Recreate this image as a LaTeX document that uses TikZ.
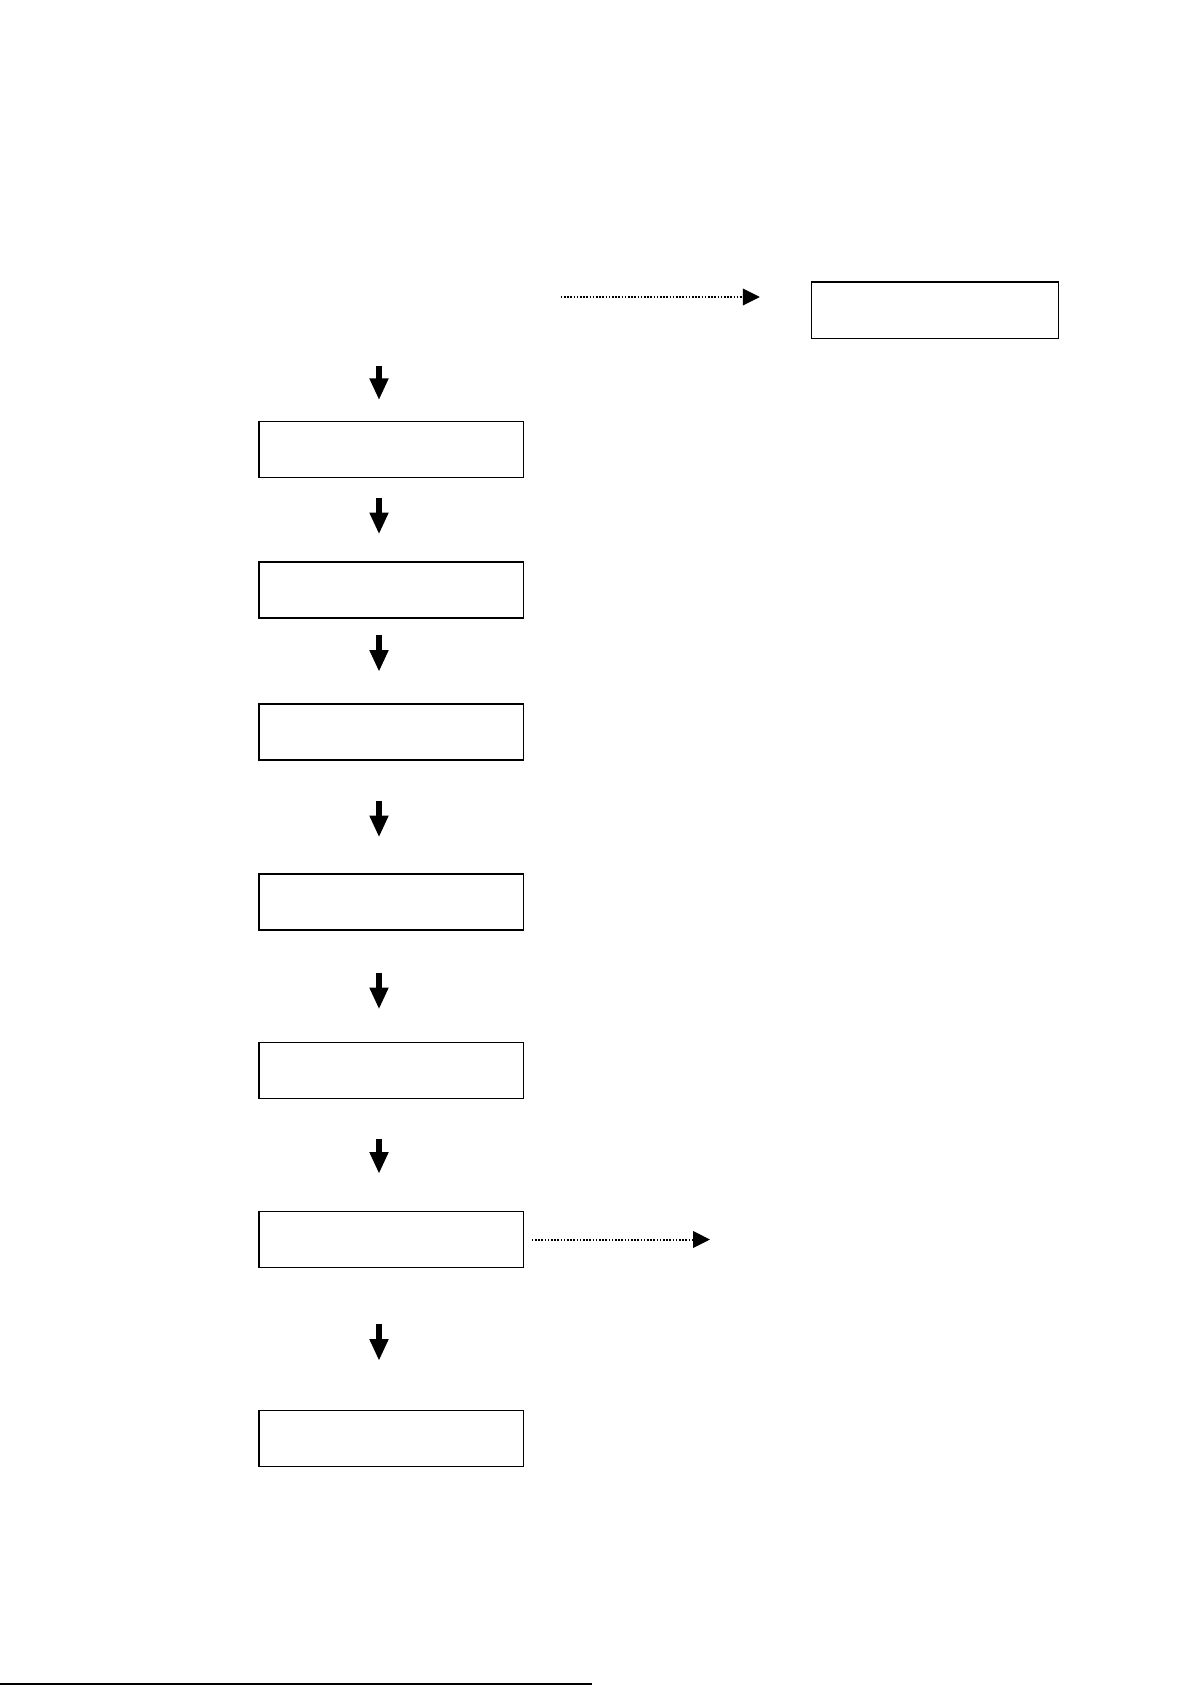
\documentclass[tikz,border=0pt]{standalone}
\usetikzlibrary{arrows.meta}
\begin{document}
\begin{tikzpicture}[x=1pt,y=-1pt,
  stepbox/.style={draw,line width=1.3pt,minimum width=264.7pt,minimum height=56pt,inner sep=0pt,outer sep=0pt},
  sidebox/.style={draw,line width=1.3pt,minimum width=247pt,minimum height=56.5pt,inner sep=0pt,outer sep=0pt},
  bigarrow/.style={line width=6pt,-{Triangle[width=17.7pt,length=21.7pt]}},
  dotarrow/.style={line width=2pt,dash pattern=on 1.6pt off 1.6pt,-{Triangle[width=16.6pt,length=17pt]}}]
\useasboundingbox (0,0) rectangle (1191,1685);
\fill[white] (0,0) rectangle (1191,1685);
% nodes
\node[sidebox] (tr) at (935,310.3) {};
\node[stepbox] (b1) at (391.4,449.5) {};
\node[stepbox] (b2) at (391.4,590.1) {};
\node[stepbox] (b3) at (391.4,732) {};
\node[stepbox] (b4) at (391.4,901.9) {};
\node[stepbox] (b5) at (391.4,1070.6) {};
\node[stepbox] (b6) at (391.4,1239.5) {};
\node[stepbox] (b7) at (391.4,1438.2) {};
\coordinate (ax) at (379,0);
\coordinate (top) at (379,365.5);
\coordinate (dstart) at (560.7,297);
\coordinate (dend) at (710,1239.5);
\coordinate (lineL) at (0,1683.8);
\coordinate (lineR) at (592,1683.8);
% vertical arrows
\draw[bigarrow,shorten >=21.4pt] (top) -- (b1.north -| ax);
\draw[bigarrow,shorten <=20.2pt,shorten >=27.8pt] (b1.south -| ax) -- (b2.north -| ax);
\draw[bigarrow,shorten <=17.3pt,shorten >=32.2pt] (b2.south -| ax) -- (b3.north -| ax);
\draw[bigarrow,shorten <=40.8pt,shorten >=36.6pt] (b3.south -| ax) -- (b4.north -| ax);
\draw[bigarrow,shorten <=42.9pt,shorten >=33.3pt] (b4.south -| ax) -- (b5.north -| ax);
\draw[bigarrow,shorten <=40.8pt,shorten >=37.7pt] (b5.south -| ax) -- (b6.north -| ax);
\draw[bigarrow,shorten <=56.8pt,shorten >=49.4pt] (b6.south -| ax) -- (b7.north -| ax);
% dotted arrows
\draw[dotarrow,shorten >=51.7pt] (dstart) -- (dstart -| tr.west);
\draw[dotarrow,shorten <=8pt] (b6.east) -- (dend);
% bottom rule
\draw[line width=2pt] (lineL) -- (lineR);
\end{tikzpicture}
\end{document}
